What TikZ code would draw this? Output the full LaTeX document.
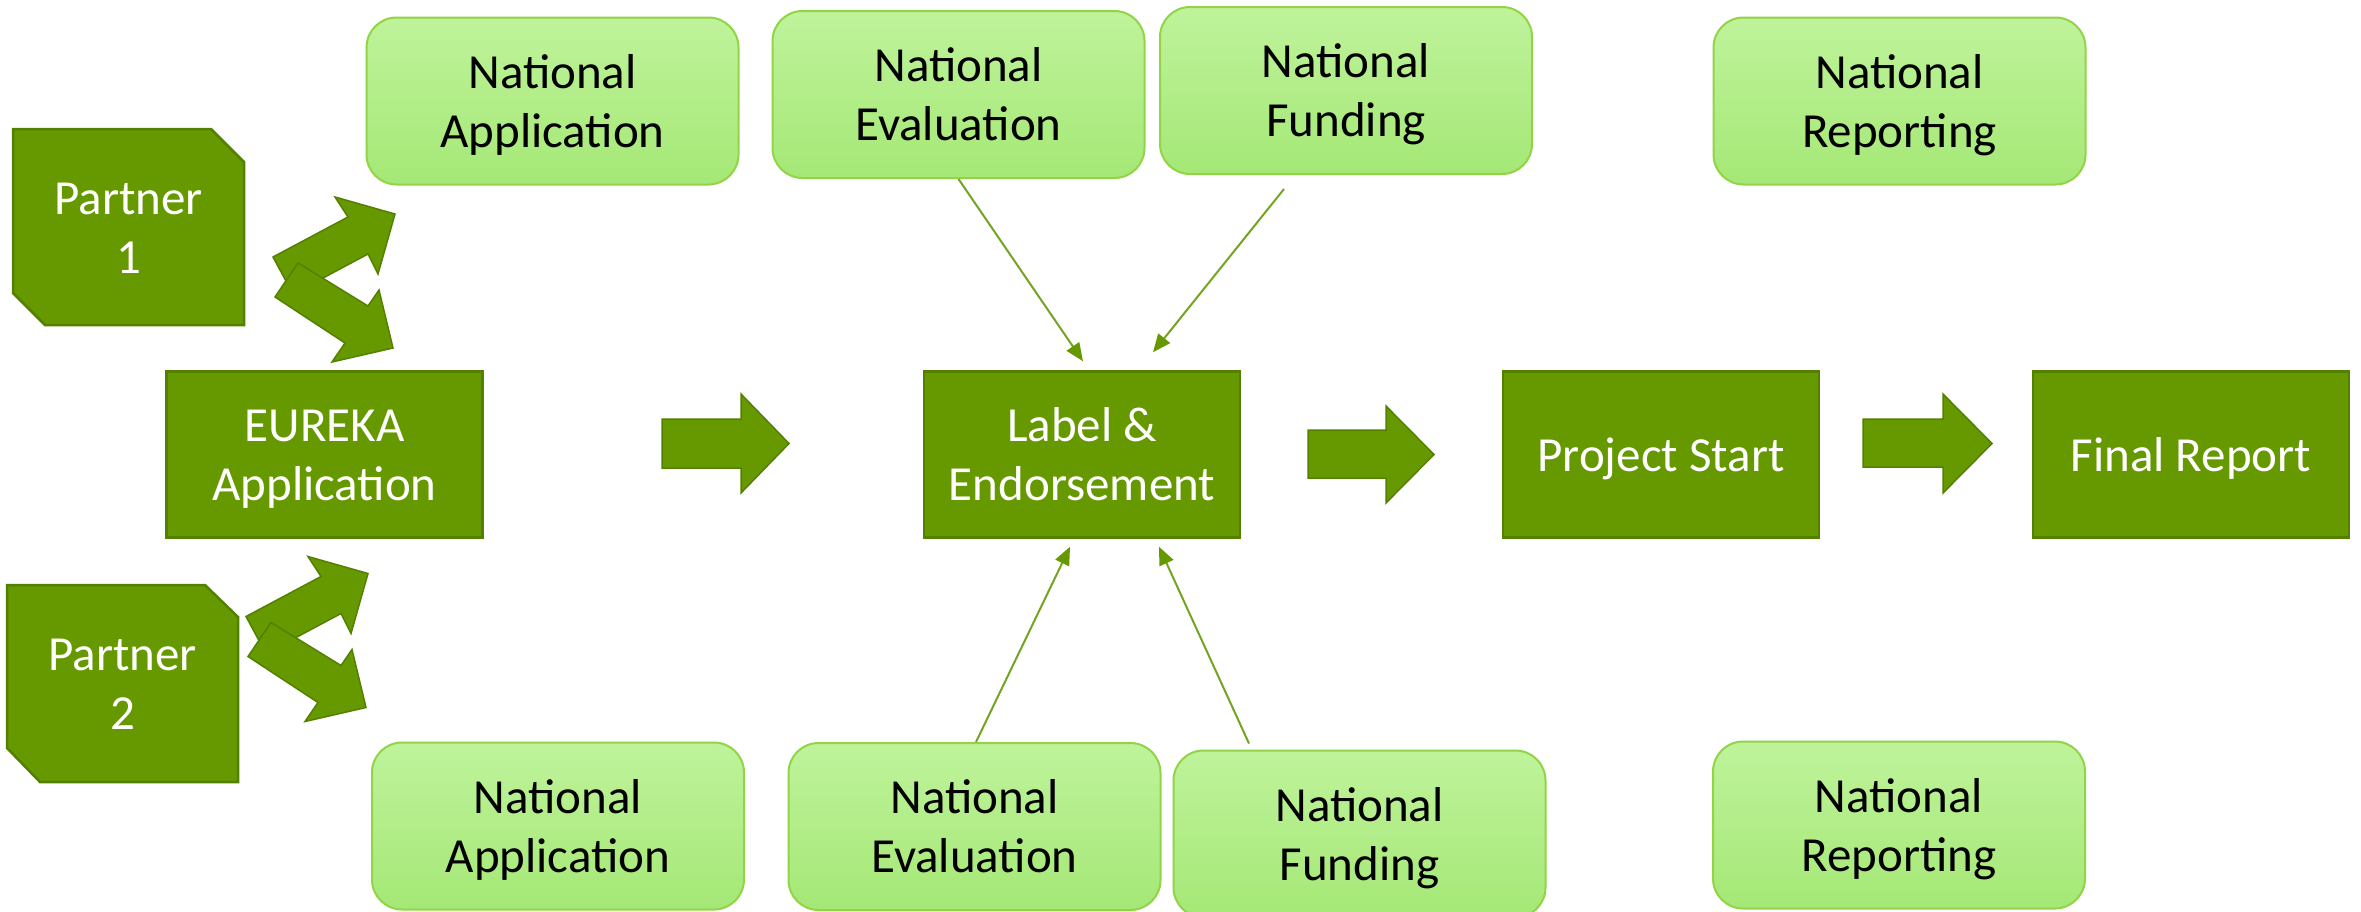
\documentclass[tikz,border=0pt]{standalone}
\usepackage{fontspec}
\setmainfont{Carlito}
\usetikzlibrary{arrows.meta}
\definecolor{dkgreen}{RGB}{102,153,0}
\definecolor{dkborder}{RGB}{84,128,0}
\definecolor{ltborder}{RGB}{146,212,70}
\definecolor{lttop}{RGB}{191,243,155}
\definecolor{ltbot}{RGB}{165,232,118}
\definecolor{linkgreen}{RGB}{115,165,35}
\newcommand\tline[1]{\smash{#1}\rule[-3.75pt]{0pt}{40.5pt}}
\begin{document}
\begin{tikzpicture}[x=1pt,y=-1pt,
  txt/.style={font=\fontsize{49}{59}\selectfont, align=center, inner sep=0pt},
  natbox/.style={txt, draw=ltborder, line width=2pt, rounded corners=30pt,
    top color=lttop, bottom color=ltbot, minimum width=372pt, minimum height=167pt, text=black},
  darkbox/.style={txt, draw=dkborder, line width=2.5pt, fill=dkgreen,
    minimum width=316pt, minimum height=166pt, text=white},
  partnershape/.style={fill=dkgreen, draw=dkborder, line width=2.5pt, line join=miter},
  blockarrow/.style={fill=dkgreen, draw=dkborder, line width=1.5pt, line join=miter},
  link/.style={draw=linkgreen, line width=2pt, -{Triangle[length=18pt,width=15pt,color=dkgreen]}}
]
\useasboundingbox (0,0) rectangle (2361,911);
\fill[white] (0,0) rectangle (2361,911);

% national boxes (top)
\node[natbox] (NAt) at (552.5,101) {\tline{National}\\\tline{Application}};
\node[natbox] (NEt) at (958.5,94.5) {\tline{National}\\\tline{Evaluation}};
\node[natbox] (NFt) at (1346,90.5) {\tline{National}\\\tline{Funding}};
\node[natbox] (NRt) at (1899.5,101) {\tline{National}\\\tline{Reporting}};
% national boxes (bottom)
\node[natbox] (NAb) at (558,826) {\tline{National}\\\tline{Application}};
\node[natbox] (NEb) at (974.5,826.5) {\tline{National}\\\tline{Evaluation}};
\node[natbox] (NFb) at (1359.5,834) {\tline{National}\\\tline{Funding}};
\node[natbox] (NRb) at (1899,825) {\tline{National}\\\tline{Reporting}};

% partners
\filldraw[partnershape] (13,129) -- (211,129) -- (244,162) -- (244,325) -- (45,325) -- (13,293) -- cycle;
\node[txt, text=white] (P1) at (128.5,227) {\tline{Partner}\\\tline{1}};
\filldraw[partnershape] (7,585) -- (205,585) -- (238,617) -- (238,782) -- (40,782) -- (7,748) -- cycle;
\node[txt, text=white] (P2) at (122.5,683.5) {\tline{Partner}\\\tline{2}};

% partner arrows
\foreach \dx/\dy in {0/0,-27/359.5}{
  \begin{scope}[shift={(\dx,\dy)}]
    \filldraw[blockarrow] (273,257) -- (348,217) -- (335,197) -- (395,214) -- (378,274) -- (368,254) -- (293,294) -- cycle;
    \filldraw[blockarrow] (298,263) -- (368,306) -- (379,290) -- (393,348) -- (332,362) -- (345,343) -- (275,297) -- cycle;
  \end{scope}
}

% main process boxes
\node[darkbox] (EA) at (324.5,454.5) {\tline{EUREKA}\\\tline{Application}};
\node[darkbox] (LE) at (1082,454.5) {\tline{Label \&}\\\tline{Endorsement}};
\node[darkbox] (PS) at (1661,454.5) {\tline{Project Start}};
\node[darkbox] (FR) at (2191,454.5) {\tline{Final Report}};

% block arrows
\filldraw[blockarrow] (662,419) -- (741,419) -- (741,394) -- (789,443.5) -- (741,493) -- (741,468) -- (662,468) -- cycle;
\filldraw[blockarrow] (1308,430) -- (1386,430) -- (1386,406) -- (1434,454.5) -- (1386,503) -- (1386,478) -- (1308,478) -- cycle;
\filldraw[blockarrow] (1863,419) -- (1943,419) -- (1943,394) -- (1992,443.5) -- (1943,493) -- (1943,467) -- (1863,467) -- cycle;

% thin links
\draw[link] (NEt.south) -- ([xshift=1pt,yshift=9pt]LE.north);
\draw[link] ([xshift=-62pt,yshift=-14pt]NFt.south) -- ([xshift=71pt,yshift=18pt]LE.north);
\draw[link] ([xshift=1.5pt]NEb.north) -- ([xshift=-12pt,yshift=-8pt]LE.south);
\draw[link] ([xshift=-110.5pt,yshift=6pt]NFb.north) -- ([xshift=77pt,yshift=-8pt]LE.south);
\end{tikzpicture}
\end{document}
